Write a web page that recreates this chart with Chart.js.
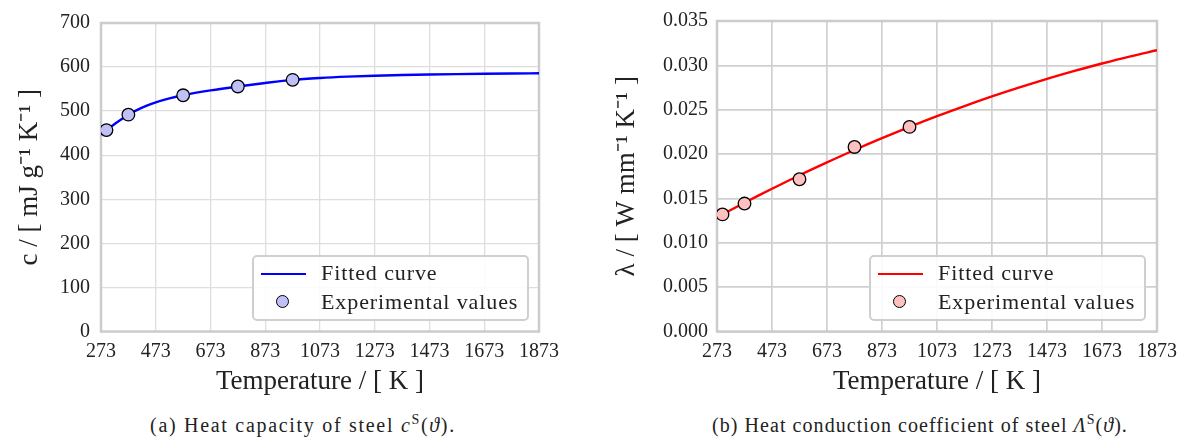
<!DOCTYPE html>
<html><head><meta charset="utf-8">
<script src="https://cdn.jsdelivr.net/npm/chart.js@4.4.1/dist/chart.umd.min.js"></script>
<style>
body{margin:0;background:#fff;width:1189px;height:446px;overflow:hidden;position:relative;color:#222}
.wrap{position:absolute;top:0;height:400px}
.legend{position:absolute;border:2px solid #cfcfcf;border-radius:5px;background:rgba(255,255,255,0.88);box-sizing:border-box}
.lbl{position:absolute;white-space:nowrap;line-height:26px;height:26px}
.ls{position:absolute;height:2.4px}
.mk{position:absolute;width:11px;height:11px;border-radius:50%;border:1.3px solid #000;box-sizing:content-box}
.cap{position:absolute;top:412px;width:600px;text-align:center;white-space:nowrap}
</style></head>
<body>
<div class="wrap" style="left:0;width:590px"><canvas id="c1"></canvas></div>
<div class="wrap" style="left:594px;width:595px"><canvas id="c2"></canvas></div>

<div class="legend" style="left:252px;top:255px;width:277px;height:66px">
  <div class="ls" style="left:7px;top:15.5px;width:45px;background:#0000ff"></div>
  <div class="lbl" style="left:67px;top:3px">Fitted curve</div>
  <div class="mk" style="left:22px;top:38px;background:#c0c0f8"></div>
  <div class="lbl" style="left:67px;top:32px">Experimental values</div>
</div>
<div class="legend" style="left:869px;top:255px;width:277px;height:66px">
  <div class="ls" style="left:7px;top:15.5px;width:45px;background:#ff0000"></div>
  <div class="lbl" style="left:67px;top:3px">Fitted curve</div>
  <div class="mk" style="left:22px;top:38px;background:#ffc0c0"></div>
  <div class="lbl" style="left:67px;top:32px">Experimental values</div>
</div>

<div class="cap" id="capA" style="left:3px">(a) Heat capacity of steel <i>c</i><sup>S</sup>(<i>ϑ</i>).</div>
<div class="cap" id="capB" style="left:620px">(b) Heat conduction coefficient of steel <i>Λ</i><sup>S</sup>(<i>ϑ</i>).</div>

<script>
// ---- data ----
const curveT = [273, 293, 323, 373, 423, 473, 523, 573, 673, 773, 873, 973, 1073, 1173, 1273, 1373, 1473, 1573, 1673, 1773, 1873];
const heatCapCurve = [447, 457, 471, 492, 508, 519.8, 528.8, 536, 547, 556, 564, 571, 575.3, 578.3, 580.4, 582, 583.2, 584.1, 584.8, 585.4, 585.9];
const condCurve = [0.01287, 0.01320, 0.01370, 0.01451, 0.01531, 0.01609, 0.01685, 0.01761, 0.01906, 0.02046, 0.02179, 0.02306, 0.02427, 0.02541, 0.02650, 0.02752, 0.02848, 0.02938, 0.03021, 0.03099, 0.03170];
const expT = [293, 373, 573, 773, 973];
const heatCapExp = [457, 492, 536, 556, 571];
const condExp = [0.0132, 0.01442, 0.01716, 0.0208, 0.02306];
const xTicks = [273, 473, 673, 873, 1073, 1273, 1473, 1673, 1873];
const capTicks = [0, 100, 200, 300, 400, 500, 600, 700];
const condTicks = [0, 0.005, 0.010, 0.015, 0.020, 0.025, 0.030, 0.035];

// ---- pick an installed serif font ----
function hasFont(name) {
  const c = document.createElement('canvas').getContext('2d');
  const s = 'abcdefghijklmnopqrstuvwxyzABCDEFGHIJ0123456789';
  for (const base of ['monospace', 'sans-serif']) {
    c.font = '72px ' + base; const w0 = c.measureText(s).width;
    c.font = '72px "' + name + '", ' + base; const w1 = c.measureText(s).width;
    if (Math.abs(w0 - w1) > 0.5) return true;
  }
  return false;
}
const PROFILES = [
  {name: 'Liberation Serif', tick: 20, title: 27, leg: 22, legLS: 0.9, cap: 20, capLS: 1.7, capLSb: 1.05},
  {name: 'DejaVu Serif', tick: 16, title: 22, leg: 18, legLS: 0, cap: 16, capLS: 0.4, capLSb: 0.2},
  {name: 'Noto Serif', tick: 17, title: 23, leg: 19, legLS: 0, cap: 17, capLS: 0.4, capLSb: 0.2},
  {name: 'FreeSerif', tick: 20, title: 27, leg: 22, legLS: 0.9, cap: 20, capLS: 1.7, capLSb: 1.05}
];
let P = PROFILES.find(p => hasFont(p.name)) || {name: 'DejaVu Sans', tick: 16, title: 22, leg: 18, legLS: 0, cap: 16, capLS: 0.4, capLSb: 0.2};
const FONT = '"' + P.name + '", serif';
document.body.style.fontFamily = FONT;
document.querySelectorAll('.lbl').forEach(e => { e.style.fontSize = P.leg + 'px'; e.style.letterSpacing = P.legLS + 'px'; });
document.querySelectorAll('.cap').forEach(e => { e.style.fontSize = P.cap + 'px'; });
document.getElementById('capA').style.letterSpacing = P.capLS + 'px';
document.getElementById('capB').style.letterSpacing = P.capLSb + 'px';
document.querySelectorAll('sup').forEach(e => { e.style.fontSize = Math.round(P.cap * 0.7) + 'px'; });
const TXT = '#222';

const framePlugin = {
  id: 'frame',
  beforeDatasetsDraw(chart, args, opts) {
    const a = chart.chartArea, ctx = chart.ctx;
    ctx.save();
    ctx.strokeStyle = opts.color || '#cccccc';
    ctx.lineWidth = opts.width || 2.5;
    ctx.strokeRect(a.left, a.top, a.right - a.left, a.bottom - a.top);
    ctx.restore();
  }
};

function pts(xs, ys) { return xs.map((x, i) => ({x: x, y: ys[i]})); }

function makeChart(id, cfg) {
  const tl = P.title * 1.2 / 2;
  return new Chart(document.getElementById(id), {
    type: 'scatter',
    data: {
      datasets: [
        {
          label: 'Experimental values',
          data: pts(expT, cfg.exp),
          pointRadius: 6.3, pointHoverRadius: 6.3,
          pointBackgroundColor: cfg.fill, pointBorderColor: '#000', pointBorderWidth: 1.3,
          showLine: false, order: 0
        },
        {
          label: 'Fitted curve',
          data: pts(curveT, cfg.curve),
          showLine: true, pointRadius: 0, borderColor: cfg.line, borderWidth: 2.4,
          cubicInterpolationMode: 'monotone', fill: false, order: 1
        }
      ]
    },
    options: {
      responsive: true, maintainAspectRatio: false, animation: false,
      devicePixelRatio: 1,
      layout: {padding: {left: 0, top: 12.5, right: cfg.padRight, bottom: 0}},
      plugins: {legend: {display: false}, tooltip: {enabled: false}, frame: {color: '#cccccc', width: 2.5}},
      scales: {
        x: {
          type: 'linear', min: 273, max: 1873,
          afterBuildTicks: s => { s.ticks = xTicks.map(v => ({value: v})); },
          afterFit: s => { s.height = 68.5; },
          grid: {color: cfg.grid, lineWidth: cfg.gridW, drawTicks: false},
          border: {display: false},
          ticks: {font: {family: FONT, size: P.tick}, color: TXT, padding: 8, maxRotation: 0, autoSkip: false, callback: v => String(v)},
          title: {display: true, text: 'Temperature / [ K ]', font: {family: FONT, size: P.title, lineHeight: 1.2}, color: TXT, padding: {top: 0, bottom: 18 - tl}}
        },
        y: {
          type: 'linear', min: 0, max: cfg.ymax,
          afterBuildTicks: s => { s.ticks = cfg.yTicks.map(v => ({value: v})); },
          afterFit: s => { s.width = cfg.yWidth; },
          grid: {color: cfg.grid, lineWidth: cfg.gridW, drawTicks: false},
          border: {display: false},
          ticks: {font: {family: FONT, size: P.tick}, color: TXT, padding: cfg.tickPad, callback: cfg.fmt},
          title: {display: true, text: cfg.ytitle, font: {family: FONT, size: P.title, lineHeight: 1.2}, color: TXT, padding: {top: cfg.titleX - tl, bottom: 0}}
        }
      }
    },
    plugins: [framePlugin]
  });
}

makeChart('c1', {
  exp: heatCapExp, curve: heatCapCurve, fill: '#c0c0f8', line: '#0000ff',
  ymax: 700, yTicks: capTicks, fmt: v => String(v), yWidth: 101, padRight: 51,
  grid: '#dedede', gridW: 1.3, tickPad: 11, titleX: 30,
  ytitle: 'c / [ mJ g\u207B\u00B9 K\u207B\u00B9 ]'
});
makeChart('c2', {
  exp: condExp, curve: condCurve, fill: '#ffc0c0', line: '#ff0000',
  ymax: 0.035, yTicks: condTicks, fmt: v => Number(v).toFixed(3), yWidth: 123, padRight: 32,
  grid: '#d0d0d0', gridW: 1.7, tickPad: 9, titleX: 33,
  ytitle: '\u03BB / [ W mm\u207B\u00B9 K\u207B\u00B9 ]'
});
</script>
</body></html>
